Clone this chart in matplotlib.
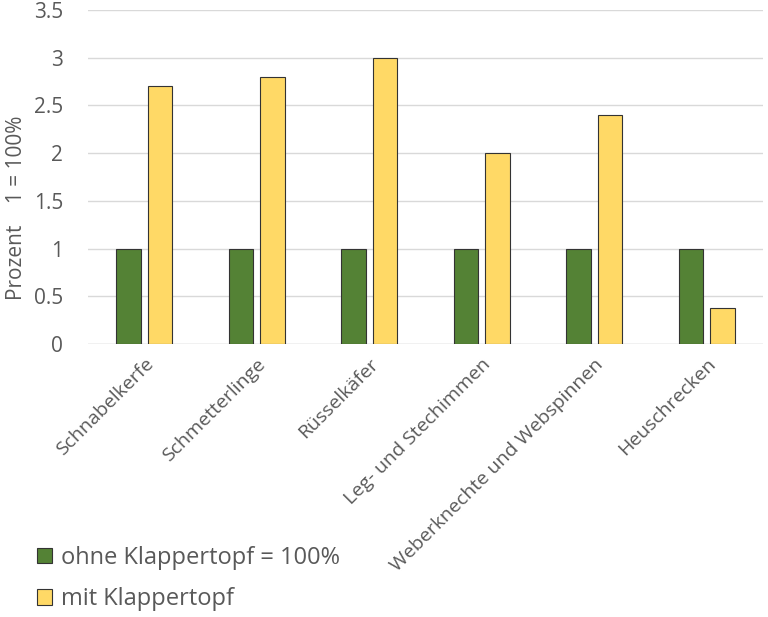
import matplotlib
matplotlib.use("Agg")
import matplotlib.pyplot as plt
import numpy as np
from matplotlib.patches import Patch

categories = ["Schnabelkerfe", "Schmetterlinge", "Rüsselkäfer", "Leg- und Stechimmen",
              "Weberknechte und Webspinnen", "Heuschrecken"]
ohne = [1, 1, 1, 1, 1, 1]
mit = [2.7, 2.8, 3.0, 2.0, 2.4, 0.38]
series_names = ["ohne Klappertopf = 100%", "mit Klappertopf"]
yticks = [0, 0.5, 1, 1.5, 2, 2.5, 3, 3.5]
ytick_labels = ["0", "0.5", "1", "1.5", "2", "2.5", "3", "3.5"]

plt.rcParams['font.family'] = ['Open Sans', 'DejaVu Sans']
txt = '#595959'
green = '#548235'
yellow = '#FFD966'

fig = plt.figure(figsize=(7.68, 6.17), dpi=100)
ax = fig.add_axes([0.1146, 0.4425, 0.8789, 0.5413])

x = np.arange(len(categories))
w = 0.22
gap = 0.06
ax.bar(x - (w + gap) / 2, ohne, w, color=green, edgecolor='#333333', linewidth=0.8, zorder=3)
ax.bar(x + (w + gap) / 2, mit, w, color=yellow, edgecolor='#333333', linewidth=0.8, zorder=3)

ax.set_xlim(-0.5, len(categories) - 0.5)
ax.set_ylim(0, 3.5)
ax.set_yticks(yticks)
ax.set_yticklabels(ytick_labels, fontsize=15, color=txt)
ax.yaxis.grid(True, color='#D9D9D9', linewidth=1, zorder=0)
for s in ax.spines.values():
    s.set_visible(False)
ax.tick_params(axis='both', length=0)
ax.tick_params(axis='y', pad=18)
ax.set_xticks(x)
ax.set_xticklabels(categories, rotation=45, ha='right', rotation_mode='anchor',
                   fontsize=14, color=txt)
ax.tick_params(axis='x', pad=8)
ax.axhline(0, color='#D9D9D9', linewidth=1, zorder=1)

fig.text(0.022, 0.663, "Prozent    1 = 100%", rotation=90, va='center', ha='center',
         fontsize=15, color=txt)

handles = [Patch(facecolor=green, edgecolor='#333333', linewidth=0.8),
           Patch(facecolor=yellow, edgecolor='#333333', linewidth=0.8)]
fig.legend(handles, series_names, loc='upper left', bbox_to_anchor=(0.02, 0.15),
           bbox_transform=fig.transFigure, frameon=False, fontsize=17,
           labelcolor=txt, handlelength=0.65, handleheight=0.65, handletextpad=0.4,
           labelspacing=0.75)

fig.savefig("out.png", dpi=100)
